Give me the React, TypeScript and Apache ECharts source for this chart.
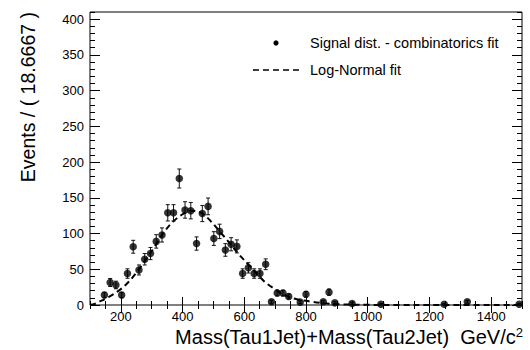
import React, { useEffect, useRef } from "react";
import * as echarts from "echarts";

// ---- Data ----
const massBinCenters = [
  146.67, 165.33, 184.0, 202.67, 221.33, 240.0, 258.67, 277.33, 296.0, 314.67,
  333.33, 352.0, 370.67, 389.33, 408.0, 426.67, 445.33, 464.0, 482.67, 501.33,
  520.0, 538.67, 557.33, 576.0, 594.67, 613.33, 632.0, 650.67, 669.33, 688.0,
  706.67, 725.33, 744.0, 781.33, 800.0, 856.0, 874.67, 893.33, 949.33, 1042.67,
  1248.0, 1322.67, 1490.67,
];
const eventCounts = [
  14, 31.5, 28, 14, 44, 81.5, 49, 64, 72, 89,
  98, 129, 129, 177, 133, 132, 86, 128, 138, 93,
  103, 77, 85, 82, 44, 52, 44, 44, 57, 4.6,
  16.7, 16.7, 12, 4, 15, 4.5, 18, 3, 2, 1,
  1, 4.5, 1,
];
const eventErrors = [
  3.7, 5.6, 5.3, 3.7, 6.6, 9.0, 7.0, 8.0, 8.5, 9.4,
  9.9, 11.4, 11.4, 13.3, 11.5, 11.5, 9.3, 11.3, 11.7, 9.6,
  10.1, 8.8, 9.2, 9.1, 6.6, 7.2, 6.6, 6.6, 7.5, 2.1,
  4.0, 4.0, 3.5, 2.0, 4.0, 2.0, 4.2, 1.7, 1.4, 1.0,
  1.0, 2.0, 1.0,
];
const fitMass = [
  100, 115, 130, 160, 190, 220, 250, 280, 310, 340, 370, 400, 430, 460, 490,
  520, 550, 580, 610, 640, 670, 700, 735, 770, 820, 860, 906, 950, 1000, 1100,
  1200, 1500,
];
const fitValues = [
  0.3, 1.5, 4.5, 11, 19, 30, 45, 63, 82, 102, 117, 127, 132, 129, 118,
  103, 88, 72, 58, 44, 31, 22, 13, 8, 4.5, 2.5, 1, 0.5, 0.2, 0.05,
  0.01, 0,
];
const xMajorTicks = [200, 400, 600, 800, 1000, 1200, 1400];
const yMajorTicks = [0, 50, 100, 150, 200, 250, 300, 350, 400];
const dataLegend = "Signal dist. - combinatorics fit";
const fitLegend = "Log-Normal fit";
const yTitle = "Events / ( 18.6667 )";
const xTitleMain = "Mass(Tau1Jet)+Mass(Tau2Jet)  GeV/c";
const xTitleSup = "2";

const FONT = "'Liberation Sans', Arial, Helvetica, sans-serif";

export default function App() {
  const ref = useRef<HTMLDivElement>(null);

  useEffect(() => {
    if (!ref.current) return;
    const chart = echarts.init(ref.current, undefined, { renderer: "svg" });

    const xBase = { type: "value", min: 100, max: 1500, splitLine: { show: false }, axisLine: { show: false } };
    const yBase = { type: "value", min: 0, max: 410, splitLine: { show: false }, axisLine: { show: false } };
    const tickStyle = { color: "#000", width: 1 };
    const plain = (v: number) => String(v);

    const option: any = {
      animation: false,
      backgroundColor: "#fff",
      grid: {
        left: 90, right: 8, top: 12, bottom: 45,
        show: true, borderColor: "#000", borderWidth: 1, backgroundColor: "transparent",
      },
      xAxis: [
        {
          ...xBase, position: "bottom",
          axisTick: { show: true, inside: true, length: 8, customValues: xMajorTicks, lineStyle: tickStyle },
          axisLabel: { show: true, customValues: xMajorTicks, formatter: plain, margin: 5, color: "#000", fontSize: 13, fontFamily: FONT },
        },
        {
          ...xBase, position: "bottom", interval: 50,
          axisTick: { show: true, inside: true, length: 4, lineStyle: tickStyle },
          axisLabel: { show: false },
        },
        {
          ...xBase, position: "top",
          axisTick: { show: true, inside: true, length: 8, customValues: xMajorTicks, lineStyle: tickStyle },
          axisLabel: { show: false },
        },
        {
          ...xBase, position: "top", interval: 50,
          axisTick: { show: true, inside: true, length: 4, lineStyle: tickStyle },
          axisLabel: { show: false },
        },
      ],
      yAxis: [
        {
          ...yBase, position: "left",
          axisTick: { show: true, inside: true, length: 10, customValues: yMajorTicks, lineStyle: tickStyle },
          axisLabel: { show: true, customValues: yMajorTicks, formatter: plain, margin: 6, color: "#000", fontSize: 13, fontFamily: FONT },
        },
        {
          ...yBase, position: "left", interval: 10,
          axisTick: { show: true, inside: true, length: 5, lineStyle: tickStyle },
          axisLabel: { show: false },
        },
        {
          ...yBase, position: "right",
          axisTick: { show: true, inside: true, length: 10, customValues: yMajorTicks, lineStyle: tickStyle },
          axisLabel: { show: false },
        },
        {
          ...yBase, position: "right", interval: 10,
          axisTick: { show: true, inside: true, length: 5, lineStyle: tickStyle },
          axisLabel: { show: false },
        },
      ],
      series: [
        {
          type: "line",
          name: fitLegend,
          xAxisIndex: 0, yAxisIndex: 0,
          data: fitMass.map((m, i) => [m, fitValues[i]]),
          smooth: 0.35,
          symbol: "none",
          clip: true,
          lineStyle: { color: "#000", width: 2, type: [6, 4] },
          z: 2,
        },
        {
          type: "custom",
          name: "errors",
          xAxisIndex: 0, yAxisIndex: 0,
          data: massBinCenters.map((m, i) => [m, eventCounts[i], eventErrors[i]]),
          encode: { x: 0, y: 1 },
          renderItem: (_params: any, api: any) => {
            const x = api.value(0);
            const y = api.value(1);
            const e = api.value(2);
            const top = api.coord([x, y + e]);
            const bot = api.coord([x, Math.max(y - e, 0)]);
            const s = { stroke: "#111", lineWidth: 1 };
            return {
              type: "group",
              children: [
                { type: "line", shape: { x1: top[0], y1: top[1], x2: bot[0], y2: bot[1] }, style: s },
                { type: "line", shape: { x1: top[0] - 2, y1: top[1], x2: top[0] + 2, y2: top[1] }, style: s },
                { type: "line", shape: { x1: bot[0] - 2, y1: bot[1], x2: bot[0] + 2, y2: bot[1] }, style: s },
              ],
            };
          },
          z: 3,
        },
        {
          type: "scatter",
          name: dataLegend,
          xAxisIndex: 0, yAxisIndex: 0,
          data: massBinCenters.map((m, i) => [m, eventCounts[i]]),
          symbol: "circle",
          symbolSize: 7.5,
          itemStyle: { color: "#000" },
          z: 4,
        },
      ],
      graphic: [
        { type: "circle", shape: { cx: 276, cy: 43, r: 2.6 }, style: { fill: "#000" } },
        {
          type: "text", x: 310, y: 43,
          style: { text: dataLegend, fill: "#000", fontSize: 14.5, fontFamily: FONT, align: "left", verticalAlign: "middle" },
        },
        {
          type: "line", shape: { x1: 253, y1: 70, x2: 303, y2: 70 },
          style: { stroke: "#000", lineWidth: 1.6, lineDash: [6, 4] },
        },
        {
          type: "text", x: 310, y: 70,
          style: { text: fitLegend, fill: "#000", fontSize: 14.5, fontFamily: FONT, align: "left", verticalAlign: "middle" },
        },
        {
          type: "text", x: 28, y: 12, rotation: Math.PI / 2,
          style: { text: yTitle, fill: "#000", fontSize: 19.5, fontFamily: FONT, align: "right", verticalAlign: "middle" },
        },
        {
          type: "text", x: 523, y: 337,
          style: {
            text: `{m|${xTitleMain}}{s|${xTitleSup}}`,
            align: "right", verticalAlign: "middle",
            rich: {
              m: { fontSize: 20, fontFamily: FONT, fill: "#000", lineHeight: 22 },
              s: { fontSize: 13, fontFamily: FONT, fill: "#000", lineHeight: 22, verticalAlign: "top" },
            },
          },
        },
      ],
    };

    chart.setOption(option);
    return () => chart.dispose();
  }, []);

  return (
    <div
      ref={ref}
      style={{ position: "absolute", left: 0, top: 0, width: 530, height: 350, background: "#fff" }}
    />
  );
}
